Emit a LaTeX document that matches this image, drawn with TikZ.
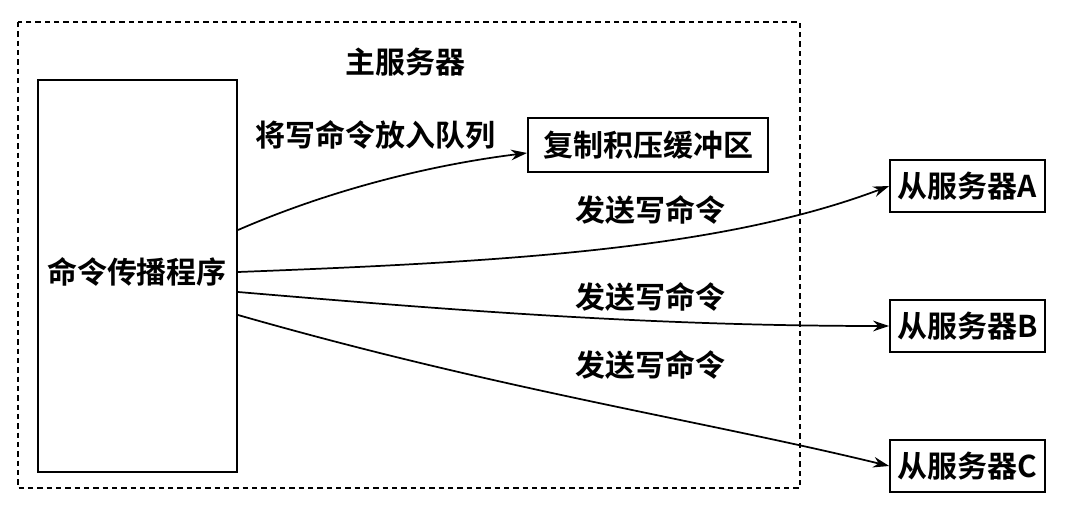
\documentclass[tikz,border=0pt]{standalone}
\usepackage{fontspec}
\setmainfont{Noto Sans CJK SC}[BoldFont={* Bold}]
\usetikzlibrary{arrows.meta}
\begin{document}
\begin{tikzpicture}[x=0.75pt,y=-0.75pt,
  box/.style={draw,line width=1.5pt,inner sep=0pt},
  lbl/.style={font=\fontsize{22.5pt}{24pt}\selectfont\bfseries},
  arr/.style={line width=1.3pt,-{Stealth[length=12pt,width=8pt]}}]
\useasboundingbox (0,0) rectangle (1076,520);
\draw[dash pattern=on 4pt off 3pt,line width=1.1pt] (18,22) rectangle (800,488);
\node[lbl] (title) at (405,62) {主服务器};
\node[box,minimum width=149.25pt,minimum height=294pt] (prop) at (137.5,276) {};
\node[lbl] at (137,272) {命令传播程序};
\node[box,lbl,minimum width=180pt,minimum height=40.5pt] (buf) at (648,145) {复制积压缓冲区};
\node[box,lbl,minimum width=116pt,minimum height=39pt] (A) at (967.5,186) {从服务器A};
\node[box,lbl,minimum width=116pt,minimum height=39pt] (B) at (967.5,326) {从服务器B};
\node[box,lbl,minimum width=116pt,minimum height=39pt] (C) at (967.5,466) {从服务器C};
\node[lbl] at (375,135) {将写命令放入队列};
\node[lbl] at (650,210) {发送写命令};
\node[lbl] at (650,297) {发送写命令};
\node[lbl] at (650,365) {发送写命令};
\coordinate (s1) at (238,230);
\coordinate (s2) at (238,272);
\coordinate (s3) at (238,292);
\coordinate (s4) at (238,315);
\draw[arr] (s1) .. controls (330,190) and (430,165) .. (buf.west|-0,153);
\draw[arr] (s2) .. controls (500,262) and (720,250) .. (A.west);
\draw[arr] (s3) .. controls (450,310) and (650,326) .. (B.west);
\draw[arr] (s4) .. controls (500,390) and (700,420) .. (C.west);
\end{tikzpicture}
\end{document}
